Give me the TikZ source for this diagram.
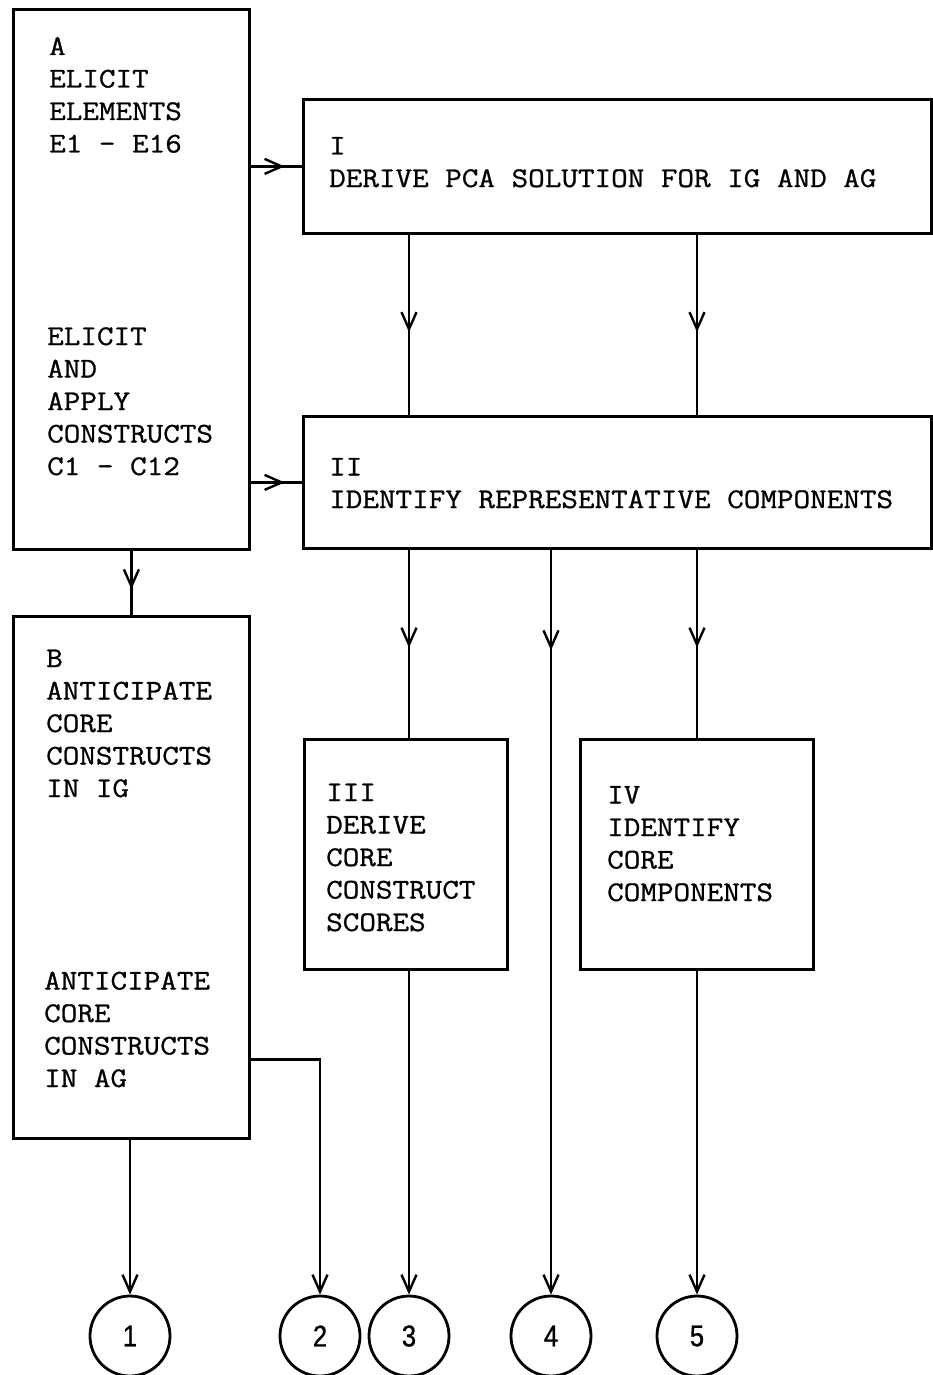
\documentclass[tikz,border=0pt]{standalone}
\usepackage{fontspec}
\newfontfamily\tw[FakeStretch=1.13,FakeBold=0.9]{Latin Modern Mono}
\newfontfamily\dg[FakeBold=1,FakeStretch=0.85]{Liberation Sans}
\usetikzlibrary{arrows.meta,decorations.markings,calc}
\tikzset{
  box/.style={draw, line width=2.8pt, anchor=north west, inner sep=0pt},
  txt/.style={anchor=base west, inner sep=0pt, align=left,
    font=\tw\fontsize{28.5}{32.5}\selectfont},
  conn/.style={line width=2.8pt},
  barb/.tip={Straight Barb[length=17pt,width=15pt,line width=2.4pt]},
  tip/.style={-barb},
  midtip/.style={postaction={decorate}, decoration={markings,
    mark=at position #1 with {\arrow{barb}}}},
  endc/.style={draw, circle, line width=2.8pt, minimum size=80pt, inner sep=0pt,
    font=\dg\fontsize{30}{32}\selectfont},
}
\begin{document}
\begin{tikzpicture}[x=1pt,y=-1pt]
\useasboundingbox (0,0) rectangle (932,1375);
% boxes
\node[box, minimum width=236pt, minimum height=540pt] (A) at (12,8) {};
\node[box, minimum width=628pt, minimum height=134pt] (I) at (302,98) {};
\node[box, minimum width=628pt, minimum height=132pt] (II) at (302,415) {};
\node[box, minimum width=236pt, minimum height=522pt] (B) at (12,615) {};
\node[box, minimum width=203pt, minimum height=230pt] (III) at (303,738) {};
\node[box, minimum width=233pt, minimum height=230pt] (IV) at (579,738) {};
% texts (anchored at the baseline of the last line)
\node[txt] (tA1) at (49,152.5) {A\\ELICIT\\ELEMENTS\\E1 - E16};
\node[txt] (tA2) at (47,475) {ELICIT\\AND\\APPLY\\CONSTRUCTS\\C1 - C12};
\node[txt] (tI) at (329,187) {I\\DERIVE PCA SOLUTION FOR IG AND AG};
\node[txt] (tII) at (329,508) {II\\IDENTIFY REPRESENTATIVE COMPONENTS};
\node[txt] (tB1) at (46,797) {B\\ANTICIPATE\\CORE\\CONSTRUCTS\\IN IG};
\node[txt] (tB2) at (44,1087) {ANTICIPATE\\CORE\\CONSTRUCTS\\IN AG};
\node[txt] (tIII) at (326,931) {III\\DERIVE\\CORE\\CONSTRUCT\\SCORES};
\node[txt] (tIV) at (607,901) {IV\\IDENTIFY\\CORE\\COMPONENTS};
% end circles
\node[endc] (c1) at (130,1336) {1};
\node[endc] (c2) at (320,1336) {2};
\node[endc] (c3) at (409,1336) {3};
\node[endc] (c4) at (551,1336) {4};
\node[endc] (c5) at (697,1336) {5};
% column coordinates
\coordinate (x1) at (409,0);
\coordinate (x3) at (697,0);
% connectors
\draw[conn, midtip=0.66] (A.east |- I.west) -- (I.west);
\draw[conn, midtip=0.66] (A.east |- II.west) -- (II.west);
\draw[conn, midtip=0.6] (A.south) -- (B.north);
\draw[conn, midtip=0.54] (I.south -| x1) -- (II.north -| x1);
\draw[conn, midtip=0.54] (I.south -| x3) -- (II.north -| x3);
\draw[conn, midtip=0.52] (II.south -| x1) -- (III.north -| x1);
\draw[conn, midtip=0.52] (II.south -| x3) -- (IV.north -| x3);
\draw[conn, tip, midtip=0.135] (II.south -| c4) -- (c4.north);
\draw[conn, tip] (III.south -| c3) -- (c3.north);
\draw[conn, tip] (IV.south -| c5) -- (c5.north);
\draw[conn, tip] (B.south -| c1) -- (c1.north);
\draw[conn, tip] ($(B.south east)+(0,-80)$) -| (c2.north);
\end{tikzpicture}
\end{document}
